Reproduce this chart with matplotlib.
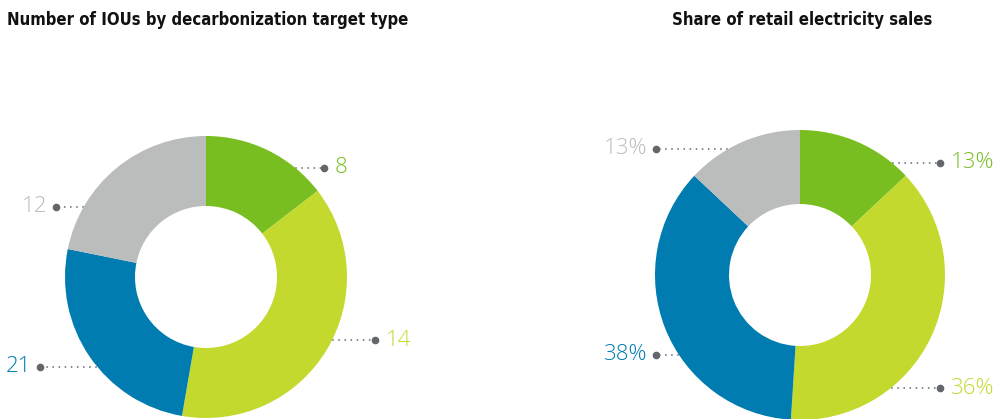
import matplotlib.pyplot as plt
import numpy as np

# data (wedge sizes as drawn in the reference; the printed labels are kept as shown)
iou_labels = ["8", "14", "21", "12"]
iou_wedges = [8, 21, 14, 12]
sales_labels = ["13%", "36%", "38%", "13%"]
sales_wedges = [13, 38, 36, 13]
colors = ["#78BE20", "#C4D92E", "#007CB0", "#BBBCBC"]

titles = ["Number of IOUs by decarbonization target type",
          "Share of retail electricity sales"]

W, H = 1000, 419
fig = plt.figure(figsize=(W / 100, H / 100), dpi=100)
ax = fig.add_axes([0, 0, 1, 1])

# layout in pixels (y measured up from bottom)
donuts = [
    dict(values=iou_wedges, labels=iou_labels, cx=206, cy=142, r=141,
         hole=71, label_y=[251, 79, 52, 212],
         dot_x=[324, 375, 40, 56]),
    dict(values=sales_wedges, labels=sales_labels, cx=800, cy=144, r=145,
         hole=71, label_y=[256, 31, 64, 270],
         dot_x=[940, 940, 656, 656]),
]

for d, title in zip(donuts, titles):
    ax.pie(d["values"], colors=colors, startangle=90, counterclock=False,
           center=(d["cx"], d["cy"]), radius=d["r"],
           wedgeprops=dict(width=d["r"] - d["hole"], linewidth=0, zorder=3))
    for y, dx, lab, c in zip(d["label_y"], d["dot_x"], d["labels"], colors):
        dy = y - d["cy"]
        edge = np.sqrt(max(d["r"] ** 2 - dy ** 2, 0))
        right = dx > d["cx"]
        x0 = d["cx"] + (edge - 12 if right else -edge + 12)
        ax.plot([x0, dx], [y, y], linestyle=(0, (1, 3)), color="#63666A",
                linewidth=1.1, zorder=2)
        ax.plot(dx, y, "o", color="#63666A", markersize=4.5, zorder=4)
        ax.text(dx + 11 if right else dx - 9, y, lab, color=c, fontsize=16,
                ha="left" if right else "right", va="center",
                family=["Open Sans", "DejaVu Sans"], fontweight="light")
    ax.text(d["cx"] + 2, H - 20, title, ha="center", va="center", fontsize=12,
            fontweight="bold", fontstretch="condensed",
            family=["DejaVu Sans"], color="#111111")

ax.set_xlim(0, W)
ax.set_ylim(0, H)
ax.set_aspect("equal")
ax.axis("off")

fig.savefig("out.png", dpi=100)
